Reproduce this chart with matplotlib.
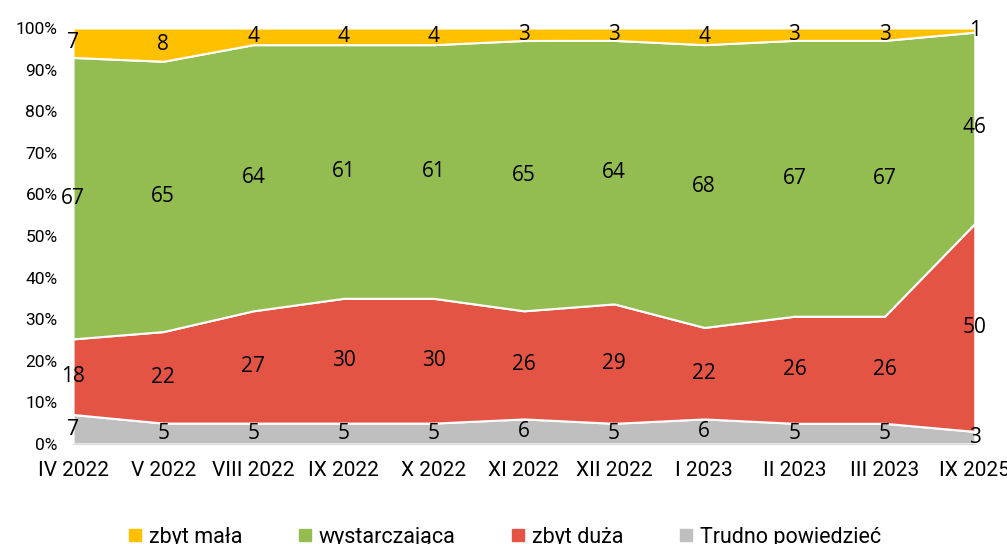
import numpy as np
import matplotlib
matplotlib.use("Agg")
import matplotlib.pyplot as plt
from matplotlib.lines import Line2D

# dane
okresy = ["IV 2022", "V 2022", "VIII 2022", "IX 2022", "X 2022", "XI 2022",
          "XII 2022", "I 2023", "II 2023", "III 2023", "IX 2025"]
trudno = [7, 5, 5, 5, 5, 6, 5, 6, 5, 5, 3]
zbyt_duza = [18, 22, 27, 30, 30, 26, 29, 22, 26, 26, 50]
wystarczajaca = [67, 65, 64, 61, 61, 65, 64, 68, 67, 67, 46]
zbyt_mala = [7, 8, 4, 4, 4, 3, 3, 4, 3, 3, 1]

serie = [trudno, zbyt_duza, wystarczajaca, zbyt_mala]
nazwy = ["Trudno powiedzieć", "zbyt duża", "wystarczająca", "zbyt mała"]
kolory = ["#BFBFBF", "#E35445", "#93BD51", "#FFC000"]

x = np.arange(len(okresy))
dane = np.array(serie, dtype=float)
proc = dane / dane.sum(axis=0) * 100

fig = plt.figure(figsize=(10.07, 5.44), dpi=100)
ax = fig.add_axes([0.0725, 0.184, 0.8955, 0.7645])

ax.stackplot(x, proc, colors=kolory, edgecolor="white", linewidth=1.5)

# etykiety w środku pasm
dol = np.zeros(len(x))
for wart, p in zip(serie, proc):
    srodek = dol + p / 2
    for xi, yi, v in zip(x, srodek, wart):
        ax.text(xi, yi, str(v), ha="center", va="center", fontsize=15,
                family="Open Sans", color="black")
    dol += p

ax.set_xlim(0, len(x) - 1)
ax.set_ylim(0, 100)
ax.set_yticks(np.arange(0, 101, 10))
ax.set_yticklabels([f"{v}%" for v in range(0, 101, 10)], family="Roboto", fontsize=12.5)
ax.set_xticks(x)
ax.set_xticklabels(okresy, family="Roboto", fontsize=15)
ax.tick_params(axis="y", length=0, pad=11)
ax.tick_params(axis="x", length=0, pad=12)
for s in ["top", "right", "left"]:
    ax.spines[s].set_visible(False)
ax.spines["bottom"].set_color("#D9D9D9")

uchwyty = [Line2D([], [], marker="s", linestyle="none", markersize=8,
                  markerfacecolor=c, markeredgecolor=c) for c in kolory[::-1]]
fig.legend(uchwyty, nazwy[::-1], loc="center", bbox_to_anchor=(0.5, 0.012),
           ncol=4, frameon=False, prop={"family": "Roboto", "size": 15.5},
           handletextpad=0.25, columnspacing=2.5, handlelength=0.8)

fig.savefig("out.png", dpi=100)
